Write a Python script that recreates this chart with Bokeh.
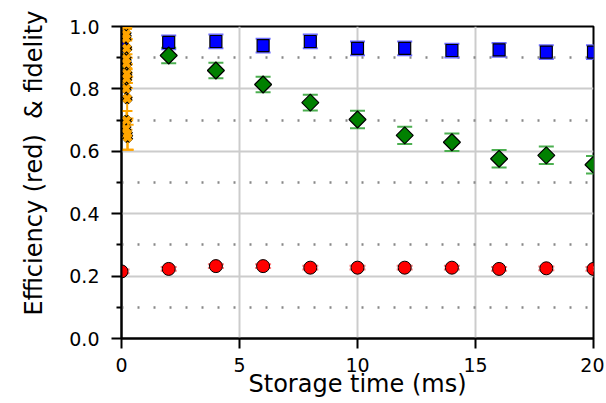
from bokeh.plotting import figure
from bokeh.models import ColumnDataSource, Whisker, TeeHead, FixedTicker, Range1d, NumeralTickFormatter, Title
from bokeh.embed import file_html
from bokeh.resources import INLINE

# Data
t = [0, 2, 4, 6, 8, 10, 12, 14, 16, 18, 20]
eff = [0.215, 0.223, 0.232, 0.232, 0.227, 0.227, 0.227, 0.227, 0.223, 0.225, 0.223]
eff_err = [0.006, 0.006, 0.006, 0.006, 0.006, 0.006, 0.006, 0.006, 0.006, 0.006, 0.006]
fid_blue = [0.939, 0.949, 0.952, 0.939, 0.952, 0.930, 0.930, 0.923, 0.925, 0.918, 0.918]
fid_blue_err = [0.022, 0.022, 0.022, 0.022, 0.022, 0.022, 0.022, 0.022, 0.022, 0.022, 0.022]
fid_green = [0.888, 0.907, 0.859, 0.814, 0.756, 0.702, 0.651, 0.629, 0.576, 0.587, 0.557]
fid_green_err = [0.025, 0.025, 0.025, 0.025, 0.025, 0.028, 0.028, 0.028, 0.028, 0.028, 0.028]
t_orange = [0.20, 0.19, 0.22, 0.20, 0.21, 0.23, 0.22, 0.20, 0.24, 0.21, 0.19, 0.25, 0.26]
fid_orange = [0.975, 0.962, 0.930, 0.897, 0.881, 0.849, 0.833, 0.801, 0.769, 0.699, 0.673, 0.655, 0.645]
fid_orange_err = [0.02, 0.03, 0.03, 0.03, 0.03, 0.03, 0.03, 0.03, 0.07, 0.03, 0.03, 0.05, 0.04]

y_major = [0.0, 0.2, 0.4, 0.6, 0.8, 1.0]
y_minor = [0.1, 0.3, 0.5, 0.7, 0.9]
x_major = [0, 5, 10, 15, 20]
x_title = "Storage time (ms)"
y_title = "Efficiency (red)\u00a0 & fidelity"

FONT = "DejaVu Sans"

p = figure(width=604, height=400, output_backend="svg", toolbar_location=None,
           x_range=Range1d(0, 20), y_range=Range1d(0, 1.0),
           min_border_left=121, min_border_top=26, min_border_right=11, min_border_bottom=62)

p.outline_line_color = "black"
p.outline_line_width = 2
p.outline_line_alpha = 1.0
p.background_fill_color = "white"
p.border_fill_color = "white"

# axes
p.xaxis.ticker = FixedTicker(ticks=x_major, minor_ticks=[])
p.yaxis.ticker = FixedTicker(ticks=y_major, minor_ticks=y_minor)
p.yaxis.formatter = NumeralTickFormatter(format="0.0")
for ax in (p.xaxis[0], p.yaxis[0]):
    ax.axis_line_width = 2
    ax.axis_line_color = "black"
    ax.major_tick_line_width = 2
    ax.major_tick_line_color = "black"
    ax.major_tick_in = 0
    ax.major_tick_out = 10
    ax.minor_tick_line_width = 2
    ax.minor_tick_line_color = "black"
    ax.minor_tick_in = 0
    ax.minor_tick_out = 5
    ax.major_label_text_font = FONT
    ax.major_label_text_font_size = "19px"
    ax.major_label_text_color = "black"
    ax.axis_label_text_font = FONT
    ax.axis_label_text_font_size = "24px"
    ax.axis_label_text_font_style = "normal"
    ax.axis_label_text_color = "black"
p.xaxis.major_label_standoff = 9
p.yaxis.major_label_standoff = 12
p.xaxis.axis_label = x_title
p.xaxis.axis_label_standoff = -5

# y title as a side title so that it can be shifted along the axis
yt = Title(text=y_title, align="left", offset=23, vertical_align="top", standoff=34,
           text_font=FONT, text_font_size="24px", text_font_style="normal", text_color="black")
p.add_layout(yt, "left")

# grids
p.xgrid.grid_line_color = "#cccccc"
p.xgrid.grid_line_width = 2
p.xgrid.minor_grid_line_color = None
p.ygrid.grid_line_color = "#cccccc"
p.ygrid.grid_line_width = 2
p.ygrid.minor_grid_line_color = "#888888"
p.ygrid.minor_grid_line_width = 2.5
p.ygrid.minor_grid_line_dash = "2 14"

# sources
def mk(x, y, e):
    return ColumnDataSource(dict(x=x, y=y, lo=[a - b for a, b in zip(y, e)], hi=[a + b for a, b in zip(y, e)]))

src_r = mk(t, eff, eff_err)
src_b = mk(t, fid_blue, fid_blue_err)
src_g = mk(t, fid_green, fid_green_err)
src_o = mk(t_orange, fid_orange, fid_orange_err)


def whisk(src, color, size):
    w = Whisker(source=src, base="x", upper="hi", lower="lo", line_color=color, line_width=2,
                upper_head=TeeHead(size=size, line_color=color, line_width=2),
                lower_head=TeeHead(size=size, line_color=color, line_width=2))
    p.add_layout(w)


whisk(src_r, "#ff8080", 16)
whisk(src_b, "#6a6aff", 15)
whisk(src_g, "#4caf50", 15)

p.scatter("x", "y", source=src_r, marker="circle", size=13, fill_color="red", line_color="black", line_width=1)
p.scatter("x", "y", source=src_b, marker="square", size=12, fill_color="blue", line_color="black", line_width=1.2)
p.scatter("x", "y", source=src_g, marker="square", size=12, angle=0.7854, fill_color="green", line_color="black", line_width=1.2)

whisk(src_o, "orange", 12)
p.scatter("x", "y", source=src_o, marker="x", size=10, line_color="black", line_width=6)
p.scatter("x", "y", source=src_o, marker="x", size=10, line_color="orange", line_width=4)

open("out.html", "w").write(file_html(p, INLINE))
